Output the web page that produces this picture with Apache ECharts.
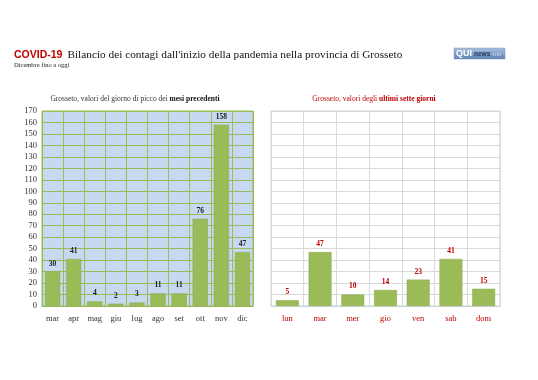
<!DOCTYPE html>
<html><head><meta charset="utf-8">
<script src="https://cdn.jsdelivr.net/npm/echarts@6/dist/echarts.min.js"></script>
<style>html,body{margin:0;padding:0;background:#fff}#c{width:538px;height:380px}</style>
</head><body><div id="c"></div>
<script>
const monthCats = ['mar','apr','mag','giu','lug','ago','set','ott','nov','dic'];
const monthValues = [30,41,4,2,3,11,11,76,158,47];
const dayCats = ['lun','mar','mer','gio','ven','sab','dom'];
const dayValues = [5,47,10,14,23,41,15];
const yMax = 170, yStep = 10;

const serif = '"Liberation Serif", "DejaVu Serif", serif';
const red = '#c00000';
const barColor = '#9bbb59';

const chart = echarts.init(document.getElementById('c'), null, {renderer:'canvas'});
chart.setOption({
  animation:false,
  backgroundColor:'#fff',
  title:[
    {text:'{a|COVID-19} {b|Bilancio dei contagi dall\'inizio della pandemia nella provincia di Grosseto}',
     left:9, top:41,
     textStyle:{fontWeight:'normal', rich:{
       a:{fontFamily:'"Liberation Sans", Arial, sans-serif', fontWeight:'bold', fontSize:10.5, color:red},
       b:{fontFamily:serif, fontWeight:'normal', fontSize:11.3, color:'#111'}}}},
    {text:'Dicembre fino a oggi', left:9, top:57, textStyle:{fontFamily:serif, fontSize:6.5, color:'#222', fontWeight:'normal'}},
    {text:'{a|Grosseto, valori del giorno di picco dei }{b|mesi precedenti}', left:130, textAlign:'center', top:90,
     textStyle:{fontWeight:'normal', rich:{a:{fontFamily:serif, fontSize:7.5, fontWeight:'normal', color:'#333'}, b:{fontFamily:serif, fontSize:7.5, fontWeight:'bold', color:'#111'}}}},
    {text:'{a|Grosseto, valori degli }{b|ultimi sette giorni}', left:369, textAlign:'center', top:90,
     textStyle:{fontWeight:'normal', rich:{a:{fontFamily:serif, fontSize:7.5, fontWeight:'normal', color:red}, b:{fontFamily:serif, fontSize:7.5, fontWeight:'bold', color:red}}}}
  ],
  graphic:[
    {type:'rect', shape:{x:454, y:48, width:51, height:11},
     style:{fill:new echarts.graphic.LinearGradient(0,0,0,1,[{offset:0,color:'#a9c0de'},{offset:1,color:'#5f82b2'}]), stroke:'#7d97bd', lineWidth:0.5}},
    {type:'text', x:456, y:53.5, style:{text:'QUI', fontSize:9, fontWeight:'bold', fontFamily:'"Liberation Sans", Arial', fill:'#fff', verticalAlign:'middle'}},
    {type:'text', x:474, y:54.5, style:{text:'news', fontSize:6.5, fontWeight:'bold', fontFamily:'"Liberation Sans", Arial', fill:'#1f2f55', verticalAlign:'middle'}},
    {type:'text', x:493, y:54.5, style:{text:'mn', fontSize:6, fontFamily:'"Liberation Sans", Arial', fill:'#d0dcee', verticalAlign:'middle'}}
  ],
  grid:[
    {left:42, top:111, width:211, height:195, show:true, backgroundColor:'#c6d9f1', borderColor:'#9bbb59', borderWidth:1},
    {left:271, top:111, width:229, height:195, show:true, backgroundColor:'#fff', borderColor:'#d0d0d0', borderWidth:1}
  ],
  xAxis:[
    {type:'category', gridIndex:0, data:monthCats, axisTick:{show:false},
     axisLine:{lineStyle:{color:'#9bbb59'}},
     splitLine:{show:true, interval:0, lineStyle:{color:'#9bbb59', width:1}},
     axisLabel:{fontFamily:serif, fontSize:8.5, color:'#333', margin:8}},
    {type:'category', gridIndex:1, data:dayCats, axisTick:{show:false},
     axisLine:{lineStyle:{color:'#d0d0d0'}},
     splitLine:{show:true, interval:0, lineStyle:{color:'#d9d9d9', width:1}},
     axisLabel:{fontFamily:serif, fontSize:8.5, color:red, margin:8}}
  ],
  yAxis:[
    {type:'value', gridIndex:0, min:0, max:yMax, interval:yStep,
     axisLine:{show:false}, axisTick:{show:false},
     splitLine:{lineStyle:{color:'#9bbb59', width:1}},
     axisLabel:{fontFamily:serif, fontSize:8.5, color:'#333', margin:5}},
    {type:'value', gridIndex:1, min:0, max:yMax, interval:yStep,
     axisLine:{show:false}, axisTick:{show:false},
     splitLine:{lineStyle:{color:'#d9d9d9', width:1}},
     axisLabel:{show:false}}
  ],
  series:[
    {type:'bar', xAxisIndex:0, yAxisIndex:0, data:monthValues, barWidth:'72%',
     itemStyle:{color:barColor, borderColor:'#8aa84c', borderWidth:0.5},
     label:{show:true, position:'top', distance:4, fontFamily:serif, fontSize:7.5, fontWeight:'bold', color:'#222'}},
    {type:'bar', xAxisIndex:1, yAxisIndex:1, data:dayValues, barWidth:'70%',
     itemStyle:{color:barColor, borderColor:'#8aa84c', borderWidth:0.5},
     label:{show:true, position:'top', distance:4, fontFamily:serif, fontSize:7.5, fontWeight:'bold', color:red}}
  ]
});
</script></body></html>
